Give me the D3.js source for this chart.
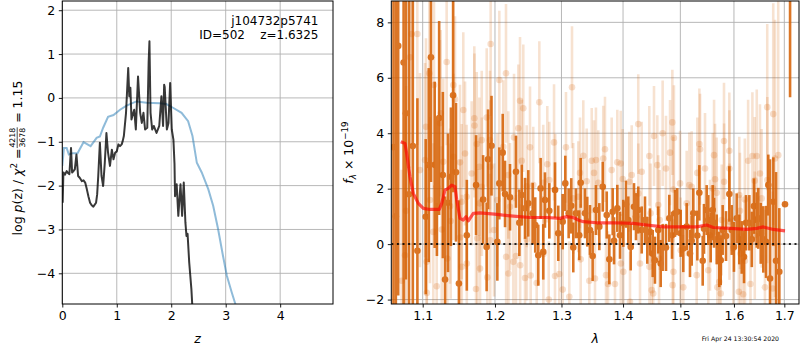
<!DOCTYPE html>
<html><head><meta charset="utf-8">
<script src="https://cdn.jsdelivr.net/npm/d3@7"></script>
<style>body{margin:0;background:#fff}svg{display:block;font-family:"DejaVu Sans",sans-serif}</style>
</head><body><svg id="c" width="800" height="350"></svg>
<script>
// ---------- left panel data: log p(z) ----------
const zTicks = [0,1,2,3,4];
const zTickLabels = ["0","1","2","3","4"];
const pTicks = [-4,-3,-2,-1,0,1,2];
const pTickLabels = ["\u22124","\u22123","\u22122","\u22121","0","1","2"];

const chiZ = [0,0.03,0.08,0.12,0.19,0.28,0.39,0.52,0.63,0.69,0.75,0.84,0.94,1.06,1.18,1.36,1.55,1.79,1.91,2.04,2.19,2.31,2.39,2.47,2.56,2.68,2.77,2.86,2.95,3.02,3.11,3.17,3.25];
const chiP = [-1.55,-1.14,-1.14,-1.29,-1.26,-1.26,-1.01,-1.10,-0.91,-0.88,-0.68,-0.43,-0.39,-0.27,-0.175,-0.08,-0.11,-0.12,-0.14,-0.23,-0.34,-0.53,-0.87,-1.48,-1.70,-2.08,-2.46,-2.99,-3.60,-4.05,-4.43,-4.67,-5.0];

const pzZ = [0.007,0.02,0.05,0.08,0.11,0.13,0.16,0.18,0.21,0.23,0.26,0.29,0.32,0.36,0.39,0.42,0.45,0.48,0.51,0.54,0.57,0.62,0.64,0.66,0.69,0.72,0.75,0.78,0.81,0.84,0.875,0.91,0.94,0.97,1.00,1.03,1.06,1.09,1.11,1.13,1.17,1.21,1.23,1.25,1.27,1.30,1.32,1.35,1.39,1.43,1.46,1.49,1.52,1.56,1.585,1.60,1.62,1.65,1.68,1.73,1.78,1.82,1.85,1.87,1.88,1.92,1.95,1.98,2.01,2.04,2.06,2.07,2.10,2.13,2.17,2.20,2.23,2.26,2.28,2.30,2.33,2.37,2.39,2.42];
const pzP = [-2.39,-1.70,-1.75,-1.67,-1.72,-1.74,-1.14,-1.70,-1.66,-1.63,-1.29,-1.78,-1.82,-1.90,-1.88,-1.93,-2.08,-2.25,-2.39,-2.45,-2.48,-2.39,-2.20,-1.78,-1.02,-1.78,-2.01,-1.48,-0.80,-1.25,-1.55,-1.18,-1.40,-1.25,-1.22,-1.06,-1.10,-1.06,-0.98,-0.87,-0.34,0.68,0.04,0.23,-0.49,-0.35,-0.27,-0.72,0.49,-0.34,-0.57,-0.34,-0.72,-0.68,0.80,1.29,-0.34,-0.72,-0.64,-0.80,-0.64,0.04,-0.64,0.30,0.25,-0.72,-0.57,0.34,-0.72,-0.95,-1.50,-2.24,-1.97,-2.69,-1.97,-2.69,-1.93,-2.84,-3.15,-3.10,-3.75,-4.36,-4.81,-5.40];

// ---------- right panel data: spectrum ----------
const wTicks = [1.1,1.2,1.3,1.4,1.5,1.6,1.7];
const wTickLabels = ["1.1","1.2","1.3","1.4","1.5","1.6","1.7"];
const fTicks = [-2,0,2,4,6,8];
const fTickLabels = ["\u22122","0","2","4","6","8"];

const darkWave = [1.062,1.065,1.068,1.075,1.078,1.082,1.087,1.093,1.104,1.108,1.111,1.116,1.119,1.122,1.127,1.130,1.134,1.138,1.141,1.145,1.149,1.160,1.173,1.183,1.188,1.190,1.195,
1.2034,1.2063,1.2112,1.2146,1.2219,1.2307,1.2357,1.2393,1.2442,1.2491,1.2557,1.2596,1.2642,1.2678,1.2718,1.2744,1.2811,1.2899,1.2950,1.3019,1.3060,1.3113,1.3154,1.3186,1.3228,1.3281,1.3304,1.3373,1.3410,1.3454,1.3497,
1.3551,1.3606,1.3662,1.3728,1.3771,1.3827,1.3849,1.3904,1.3949,1.4005,1.4050,1.4089,1.4130,1.4186,1.4220,1.4259,1.4318,1.4375,1.4415,1.4461,1.4509,1.4548,1.4606,1.4649,1.4684,1.4743,1.4802,1.4850,1.4903,1.4944,1.5006,1.5053,1.5115,1.5175,1.5236,
1.5206,1.5310,1.5347,1.5409,1.5433,1.5483,1.5513,1.5558,1.5596,1.5621,1.5671,1.5720,1.5747,1.5784,1.5848,1.5911,1.5957,1.6000,1.6053,1.6103,1.6150,1.6195,1.6234,1.6299,1.6347,1.6390,1.6445,1.6476,1.6524,1.6575,1.6630,1.6675,1.6710,1.6777,1.6831,1.6898,1.7014,1.7118];
const darkFlux = [3.5,1.0,7.15,6.55,4.72,1.80,3.54,-0.24,0.99,2.85,6.74,2.86,2.07,4.55,2.49,-1.28,1.49,2.43,5.37,2.59,-1.42,0.32,2.13,1.61,-0.10,3.06,3.55,
0.08,2.19,3.30,1.81,1.69,2.61,0.77,1.77,1.29,1.47,1.11,0.69,-0.40,2.01,-0.28,1.59,1.20,1.95,0.39,0.81,2.19,1.11,1.38,-0.12,1.11,0.32,2.21,1.11,0.81,0.51,-0.43,
1.23,0.63,2.07,1.05,-0.55,1.17,0.12,1.29,0.32,0.75,1.44,0.87,-0.10,1.35,0.99,1.23,0.51,0.87,0.14,0.44,-0.34,-0.58,0.51,-0.70,-0.12,-0.12,0.93,0.32,1.11,1.17,0.39,-0.16,0.63,-0.34,1.11,
0.12,0.31,1.85,-0.60,0.55,1.23,0.87,0.24,1.23,0.77,0.17,-0.55,-0.58,0.51,0.29,1.81,0.51,-0.10,0.93,0.17,-0.12,-0.46,0.77,0.77,0.17,1.37,0.87,0.93,0.39,0.17,0.08,2.13,-1.24,1.53,-0.60,-1.00,1.44,12.0];
const darkErr = [12,10,9,9,6,7,6,5.5,2.8,3.5,4.5,3.0,2.5,3.5,3.0,3.0,2.5,2.5,3.5,2.5,3.0,2.0,1.8,1.6,1.6,1.8,1.8,
1.4,1.3,1.4,1.2,1.2,1.3,1.2,1.1,1.1,1.2,1.1,1.0,1.1,1.1,1.0,1.0,1.0,1.0,1.0,1.0,1.0,0.9,1.0,0.9,0.9,0.9,0.9,0.9,0.9,0.9,0.9,
0.9,0.85,0.9,0.85,0.9,0.85,0.85,0.85,0.85,0.85,0.85,0.85,0.85,0.85,0.85,0.85,0.85,0.85,0.85,0.85,0.85,0.85,0.85,0.85,0.85,0.85,0.85,0.85,0.85,0.85,0.85,0.85,0.85,0.85,0.9,
0.9,0.9,1.0,0.9,0.9,0.9,0.9,0.9,0.9,0.9,0.9,1.0,0.9,0.9,0.9,1.0,0.9,0.9,0.9,0.9,0.95,0.95,1.0,1.0,1.0,1.0,1.0,1.1,1.1,1.2,1.3,1.1,4.3,1.6,3.2,2.3,0.05,6.7];

const lightWave = [1.0725,1.0768,1.0781,1.0833,1.0855,1.0929,1.0964,1.1031,1.1044,1.1053,1.1055,1.1088,1.1097,1.1141,1.1151,1.1187,1.1231,1.1241,1.1255,1.1276,1.1322,1.1331,1.1368,1.1377,1.1413,1.1415,1.1436,1.1505,1.1507,1.1529,1.1530,1.1551,1.1575,1.1598,1.1600,1.1668,1.1705,1.1707,1.1729,1.1739,1.1747,1.1776,1.1778,1.1786,1.1810,1.1812,1.1881,1.1890,1.1928,1.1930,1.1932,1.1938,
1.1986,1.2034,1.2063,1.2121,1.2160,1.2162,1.2194,1.2196,1.2219,1.2268,1.2278,1.2307,1.2342,1.2367,1.2369,1.2393,1.2416,1.2442,1.2467,1.2469,1.2517,1.2527,1.2566,1.2618,1.2658,1.2718,1.2720,1.2780,1.2802,1.2811,1.2884,1.2899,1.2903,1.2966,1.3019,1.3071,1.3123,1.3166,1.3186,1.3266,1.3293,1.3304,1.3346,1.3401,1.3443,1.3482,
1.3519,1.3535,1.3551,1.3589,1.3671,1.3699,1.3716,1.3749,1.3810,1.3865,1.3904,1.3961,1.3963,1.3995,1.4005,1.4106,1.4118,1.4147,1.4259,1.4261,1.4289,1.4318,1.4450,1.4452,1.4473,1.4492,1.4518,1.4532,1.4590,1.4606,1.4620,1.4632,1.4684,1.4743,1.4815,1.4856,1.4862,1.4874,1.4876,1.4885,1.4995,1.5006,1.5053,1.5115,1.5163,
1.5206,1.5298,1.5310,1.5347,1.5360,1.5452,1.5513,1.5545,1.5596,1.5621,1.5640,1.5671,1.5683,1.5720,1.5747,1.5766,1.5809,1.5811,1.5911,1.5913,1.5915,1.5987,1.6094,1.6103,1.6116,1.6129,1.6178,1.6211,1.6213,1.6275,1.6321,1.6359,1.6404,1.6406,1.6445,1.6509,1.6542,1.6608,1.6654,1.6656,1.6763,1.6775,1.6810,1.6876];
const lightFlux = [-1.32,-0.40,1.20,6.74,7.58,7.58,2.67,3.03,4.23,-0.64,-1.76,6.16,1.59,0.44,5.74,-1.52,4.36,4.72,0.53,2.97,6.57,-0.52,1.37,0.83,5.74,3.15,5.22,2.95,0.24,1.53,-0.82,4.84,3.27,1.71,-0.70,2.55,4.54,4.28,-1.62,3.61,0.21,2.79,1.47,-0.88,3.75,2.07,4.57,-1.20,3.75,2.79,0.14,7.22,
0.51,1.59,5.92,3.51,6.16,-0.46,2.49,-1.06,1.35,-0.64,3.85,-0.43,4.18,5.17,-0.76,3.01,4.90,-1.22,2.09,0.17,3.49,-1.13,2.13,-1.40,5.12,2.21,-0.36,2.88,-2.00,2.31,3.67,-1.15,1.97,-1.08,-1.64,3.49,-1.90,5.66,1.65,1.71,2.57,-0.55,3.19,2.27,-1.32,3.01,
2.57,-1.24,3.03,2.21,3.09,3.42,-1.12,-1.44,2.67,-1.44,2.95,2.91,-0.70,2.35,-1.00,2.25,-2.08,2.49,4.33,1.83,-0.70,2.61,3.18,-0.82,1.11,-1.66,-1.78,3.90,2.85,1.41,-0.52,0.87,4.00,2.73,3.30,4.39,-1.48,1.97,-1.00,3.83,2.19,-0.22,-1.56,1.47,2.13,
2.07,-1.12,2.57,3.61,3.42,2.73,-0.94,0.32,2.01,3.21,2.34,1.85,-1.56,-1.36,-1.78,0.87,3.72,2.25,3.37,2.73,0.81,-0.16,-1.72,1.77,1.20,-0.34,-1.81,1.61,-0.60,3.01,-1.44,3.18,2.29,0.32,3.18,2.55,1.65,-1.56,4.94,2.31,-1.60,4.69,3.09,3.21];
const lightErr = [4.0,5.0,4.5,4.0,4.0,4.0,3.5,3.5,3.2,3.5,3.0,3.5,3.0,3.2,3.0,3.0,3.0,3.0,3.0,3.0,3.0,3.0,2.8,2.8,3.2,3.0,3.0,2.8,2.8,2.8,2.6,2.8,2.6,2.6,2.6,2.6,2.6,2.6,2.6,2.6,2.5,2.5,2.5,2.5,2.5,2.5,2.5,2.5,2.5,2.4,2.4,2.6,
2.4,2.4,2.5,2.4,2.5,2.3,2.3,2.3,2.3,2.3,2.3,2.2,2.3,2.3,2.2,2.2,2.3,2.2,2.2,2.2,2.2,2.2,2.1,2.1,2.2,2.1,2.1,2.1,2.1,2.1,2.1,2.0,2.0,2.0,2.0,2.0,2.0,2.2,2.0,2.0,2.0,2.0,2.0,1.9,1.9,1.9,
1.9,1.9,1.9,1.9,1.9,1.9,1.9,1.9,1.9,1.9,1.9,1.9,1.8,1.8,1.8,1.8,1.8,1.8,1.8,1.8,1.8,1.8,1.8,1.8,1.8,1.8,1.8,1.8,1.8,1.8,1.8,1.8,1.9,1.9,1.9,1.9,1.9,1.9,1.9,1.9,1.9,1.9,1.9,1.9,1.9,
2.0,2.0,2.0,2.0,2.0,2.0,2.0,2.0,2.0,2.0,2.0,2.0,2.0,2.0,2.0,2.0,2.1,2.1,2.1,2.1,2.1,2.1,2.1,2.1,2.1,2.1,2.2,2.2,2.2,2.2,2.3,2.3,2.3,2.3,2.4,2.5,2.5,2.8,3.0,3.0,3.5,4.0,5.0,6.0];

const modelWave = [1.0713,1.0768,1.0790,1.0833,1.0876,1.0942,1.1008,1.1097,1.1222,1.1255,1.1299,1.1344,1.1391,1.1436,1.1460,1.1505,1.1551,1.1589,1.1621,1.1691,1.1786,1.1993,1.2268,1.2517,1.2771,1.2977,1.3082,1.3186,1.3266,1.3346,1.3563,1.3837,1.4174,1.4405,1.4696,1.5000,1.5298,1.5483,1.5607,1.5924,1.6248,1.6445,1.6575,1.6777,1.7014];
const modelFlux = [3.69,3.63,3.27,2.43,1.83,1.47,1.29,1.25,1.25,1.47,1.95,2.01,2.13,2.07,1.59,0.93,0.87,0.99,0.84,1.11,1.13,1.08,1.01,0.96,0.96,0.93,0.99,0.96,0.87,0.81,0.77,0.77,0.75,0.69,0.62,0.62,0.62,0.69,0.60,0.57,0.53,0.57,0.62,0.53,0.48];

const annot1 = "j104732p5741";
const annot2 = "ID=502    z=1.6325";
const dateText = "Fri Apr 24 13:30:54 2020";

// ---------- drawing ----------
const svg = d3.select('#c');
const FS = 12.5;
const ORANGE = "#d55e00";
const GRID = "#b0b0b0";

function panel(x0, x1, y0, y1, xs, ys, xt, yt, id) {
  const g = svg.append('g');
  svg.append('clipPath').attr('id', id).append('rect')
    .attr('x', x0).attr('y', y0).attr('width', x1 - x0).attr('height', y1 - y0);
  g.selectAll('.gx').data(xt).join('line')
    .attr('x1', d => xs(d)).attr('x2', d => xs(d)).attr('y1', y0).attr('y2', y1)
    .attr('stroke', GRID).attr('stroke-width', 0.9);
  g.selectAll('.gy').data(yt).join('line')
    .attr('y1', d => ys(d)).attr('y2', d => ys(d)).attr('x1', x0).attr('x2', x1)
    .attr('stroke', GRID).attr('stroke-width', 0.9);
  return svg.append('g').attr('clip-path', `url(#${id})`);
}
function frameAxes(x0, x1, y0, y1, xs, ys, xt, xl, yt, yl) {
  const ax = svg.append('g').attr('transform', `translate(0,${y1})`)
    .call(d3.axisBottom(xs).tickValues(xt).tickFormat((d, i) => xl[i]).tickSize(3.5).tickPadding(3.5));
  const ay = svg.append('g').attr('transform', `translate(${x0},0)`)
    .call(d3.axisLeft(ys).tickValues(yt).tickFormat((d, i) => yl[i]).tickSize(3.5).tickPadding(3.5));
  [ax, ay].forEach(a => {
    a.select('.domain').remove();
    a.selectAll('text').attr('font-size', FS).attr('font-family', '"DejaVu Sans"').attr('fill', '#000');
    a.selectAll('line').attr('stroke', '#000').attr('stroke-width', 0.9);
  });
  svg.append('rect').attr('x', x0).attr('y', y0).attr('width', x1 - x0).attr('height', y1 - y0)
    .attr('fill', 'none').attr('stroke', '#000').attr('stroke-width', 1);
}

// Left panel
const L = {x0: 62.3, x1: 333, y0: 1, y1: 304};
const zx = d3.scaleLinear().domain([0, 4.97]).range([L.x0, L.x1]);
const zy = d3.scaleLinear().domain([-4.70, 2.21]).range([L.y1, L.y0]);
const lc = panel(L.x0, L.x1, L.y0, L.y1, zx, zy, zTicks, pTicks, 'clipL');
const line = d3.line();
lc.append('path').attr('d', line(chiZ.map((z, i) => [zx(z), zy(chiP[i])])))
  .attr('fill', 'none').attr('stroke', '#1f77b4').attr('stroke-opacity', 0.5).attr('stroke-width', 2);
lc.append('path').attr('d', line(pzZ.map((z, i) => [zx(z), zy(pzP[i])])))
  .attr('fill', 'none').attr('stroke', '#000').attr('stroke-opacity', 0.78).attr('stroke-width', 2).attr('stroke-linejoin', 'round');
frameAxes(L.x0, L.x1, L.y0, L.y1, zx, zy, zTicks, zTickLabels, pTicks, pTickLabels);

svg.append('text').attr('x', 318.5).attr('y', 24.5).attr('text-anchor', 'end')
  .attr('font-size', 12).text(annot1);
svg.append('text').attr('x', 318.5).attr('y', 38.5).attr('text-anchor', 'end')
  .attr('font-size', 12).style('white-space', 'pre').text(annot2);

svg.append('text').attr('x', (L.x0 + L.x1) / 2).attr('y', 343).attr('text-anchor', 'middle')
  .attr('font-size', FS).attr('font-style', 'italic').text('z');

// left y label (rotated, with fraction)
(function () {
  const g = svg.append('g').attr('transform', 'translate(21.5,158) rotate(-90)');
  const t1 = g.append('text').attr('font-size', FS);
  t1.append('tspan').text('log ');
  t1.append('tspan').attr('font-style', 'italic').text('p');
  t1.append('tspan').text('(z) / ');
  t1.append('tspan').attr('font-style', 'italic').text('\u03c7');
  t1.append('tspan').attr('font-size', FS * 0.7).attr('dy', -5).text('2');
  t1.append('tspan').attr('dy', 5).text(' = ');
  const w1 = t1.node().getComputedTextLength();
  const fs2 = FS * 0.62;
  const num = g.append('text').attr('font-size', fs2).attr('text-anchor', 'middle').text('4218');
  const den = g.append('text').attr('font-size', fs2).attr('text-anchor', 'middle').text('3678');
  const fw = Math.max(num.node().getComputedTextLength(), den.node().getComputedTextLength()) + 2;
  const t3 = g.append('text').attr('font-size', FS).style('white-space', 'pre').text(' = 1.15');
  const w3 = t3.node().getComputedTextLength();
  const total = w1 + fw + w3;
  const s = -total / 2;
  t1.attr('x', s);
  const fc = s + w1 + fw / 2;
  num.attr('x', fc).attr('y', -6.5);
  den.attr('x', fc).attr('y', 3.5);
  g.append('line').attr('x1', s + w1 + 0.5).attr('x2', s + w1 + fw - 0.5).attr('y1', -4.3).attr('y2', -4.3)
    .attr('stroke', '#000').attr('stroke-width', 0.7);
  t3.attr('x', s + w1 + fw);
})();

// Right panel
const R = {x0: 391.3, x1: 799, y0: 1, y1: 304};
const lx = d3.scaleLog().domain([1.0592, 1.7303]).range([R.x0, R.x1]);
const ly = d3.scaleLinear().domain([-2.16, 8.77]).range([R.y1, R.y0]);
const rc = panel(R.x0, R.x1, R.y0, R.y1, lx, ly, wTicks, fTicks, 'clipR');

const light = lightWave.map((w, i) => ({w, f: lightFlux[i], e: lightErr[i]}));
const dark = darkWave.map((w, i) => ({w, f: darkFlux[i], e: darkErr[i]}));

const lg = rc.append('g');
lg.selectAll('line').data(light).join('line')
  .attr('x1', d => lx(d.w)).attr('x2', d => lx(d.w))
  .attr('y1', d => ly(d.f - d.e)).attr('y2', d => ly(d.f + d.e))
  .attr('stroke', ORANGE).attr('stroke-opacity', 0.18).attr('stroke-width', 2.6);
lg.selectAll('circle').data(light).join('circle')
  .attr('cx', d => lx(d.w)).attr('cy', d => ly(d.f)).attr('r', 3.3).attr('fill', ORANGE).attr('fill-opacity', 0.2);

const dg = rc.append('g').attr('opacity', 0.85);
dg.selectAll('line').data(dark).join('line')
  .attr('x1', d => lx(d.w)).attr('x2', d => lx(d.w))
  .attr('y1', d => ly(d.f - d.e)).attr('y2', d => ly(d.f + d.e))
  .attr('stroke', ORANGE).attr('stroke-width', 2.6);
dg.selectAll('circle').data(dark).join('circle')
  .attr('cx', d => lx(d.w)).attr('cy', d => ly(d.f)).attr('r', 3.3).attr('fill', ORANGE);

rc.append('path').attr('d', line(modelWave.map((w, i) => [lx(w), ly(modelFlux[i])])))
  .attr('fill', 'none').attr('stroke', '#ff0000').attr('stroke-opacity', 0.65).attr('stroke-width', 3.2)
  .attr('stroke-linejoin', 'round');

rc.append('line').attr('x1', R.x0).attr('x2', R.x1).attr('y1', ly(0)).attr('y2', ly(0))
  .attr('stroke', '#000').attr('stroke-opacity', 0.85).attr('stroke-width', 2).attr('stroke-dasharray', '2,3.6');

frameAxes(R.x0, R.x1, R.y0, R.y1, lx, ly, wTicks, wTickLabels, fTicks, fTickLabels);

svg.append('text').attr('x', (R.x0 + R.x1) / 2).attr('y', 343).attr('text-anchor', 'middle')
  .attr('font-size', FS).attr('font-style', 'italic').text('\u03bb');

(function () {
  const g = svg.append('g').attr('transform', 'translate(352.5,152.5) rotate(-90)');
  const t = g.append('text').attr('font-size', FS).attr('text-anchor', 'middle');
  t.append('tspan').attr('font-style', 'italic').text('f');
  t.append('tspan').attr('font-style', 'italic').attr('font-size', FS * 0.7).attr('dy', 3).text('\u03bb');
  t.append('tspan').attr('dy', -3).style('white-space', 'pre').text(' \u00d7 10');
  t.append('tspan').attr('font-size', FS * 0.7).attr('dy', -5).text('\u221219');
})();

svg.append('text').attr('x', 701.7).attr('y', 341).attr('font-size', 6.2).text(dateText);
</script></body></html>
